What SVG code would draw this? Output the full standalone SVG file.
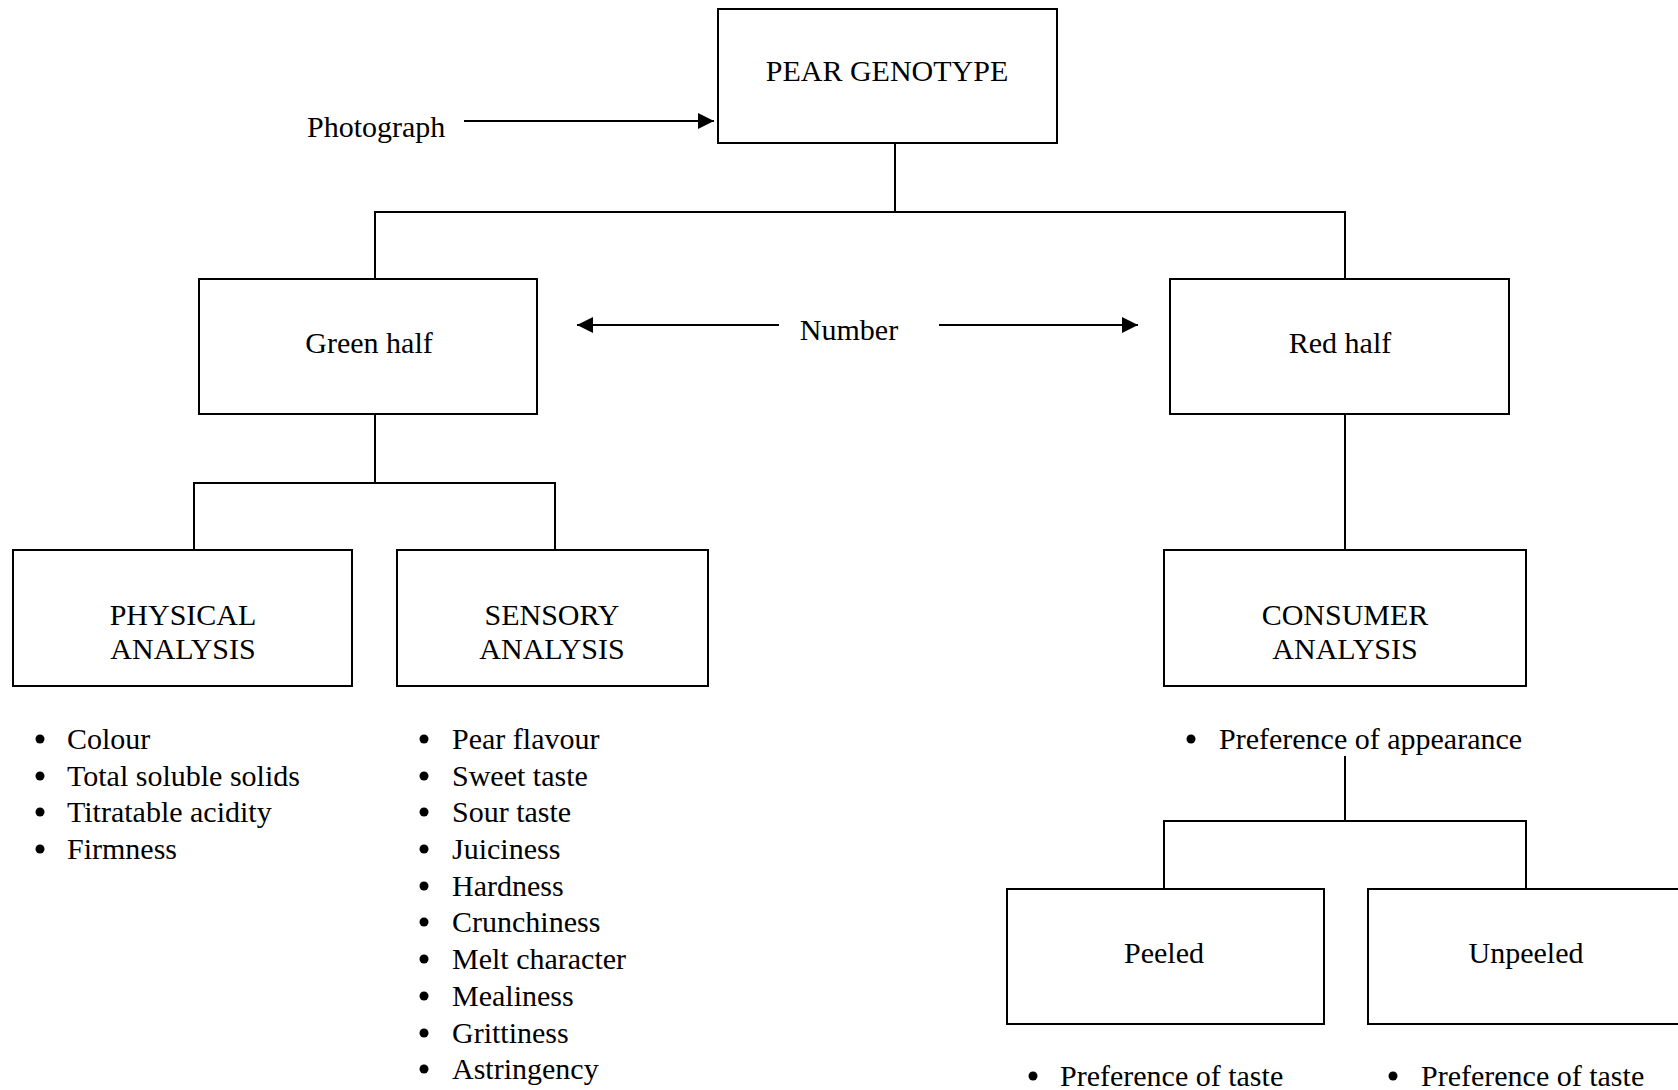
<svg xmlns="http://www.w3.org/2000/svg" width="1678" height="1090" viewBox="0 0 1678 1090">
<style>
text{font-family:"Liberation Serif","Times New Roman",serif;font-size:30px;fill:#000}
.c{text-anchor:middle}
.box{fill:#fff;stroke:#000;stroke-width:2}
.ln{fill:none;stroke:#000;stroke-width:2}
.b{fill:#000}
</style>
<defs>
<marker id="ah" viewBox="0 0 10 10" refX="10" refY="5" markerWidth="8" markerHeight="8" markerUnits="strokeWidth" orient="auto">
<path d="M0,0 L10,5 L0,10 z" fill="#000"/>
</marker>
</defs>
<rect width="1678" height="1090" fill="#fff"/>
<g id="connectors">
<line class="ln" x1="464" y1="121" x2="714" y2="121" marker-end="url(#ah)"/>
<polyline class="ln" points="895,143 895,212"/>
<polyline class="ln" points="375,279 375,212 1345,212 1345,279"/>
<line class="ln" x1="779" y1="325" x2="577" y2="325" marker-end="url(#ah)"/>
<line class="ln" x1="939" y1="325" x2="1138" y2="325" marker-end="url(#ah)"/>
<polyline class="ln" points="375,414 375,483"/>
<polyline class="ln" points="194,550 194,483 555,483 555,550"/>
<polyline class="ln" points="1345,414 1345,550"/>
<polyline class="ln" points="1345,756 1345,821"/>
<polyline class="ln" points="1164,889 1164,821 1526,821 1526,889"/>
</g>
<g id="photograph"><text x="307" y="137">Photograph</text></g>
<g id="number"><text class="c" x="849" y="340">Number</text></g>
<g id="pear-genotype"><rect class="box" x="718" y="9" width="339" height="134"/><text class="c" x="887" y="81">PEAR GENOTYPE</text></g>
<g id="green-half"><rect class="box" x="199" y="279" width="338" height="135"/><text class="c" x="369" y="353">Green half</text></g>
<g id="red-half"><rect class="box" x="1170" y="279" width="339" height="135"/><text class="c" x="1340" y="353">Red half</text></g>
<g id="physical-analysis"><rect class="box" x="13" y="550" width="339" height="136"/><text class="c" x="183" y="625">PHYSICAL</text><text class="c" x="183" y="659">ANALYSIS</text></g>
<g id="sensory-analysis"><rect class="box" x="397" y="550" width="311" height="136"/><text class="c" x="552" y="625">SENSORY</text><text class="c" x="552" y="659">ANALYSIS</text></g>
<g id="consumer-analysis"><rect class="box" x="1164" y="550" width="362" height="136"/><text class="c" x="1345" y="625">CONSUMER</text><text class="c" x="1345" y="659">ANALYSIS</text></g>
<g id="peeled"><rect class="box" x="1007" y="889" width="317" height="135"/><text class="c" x="1164" y="963">Peeled</text></g>
<g id="unpeeled"><rect class="box" x="1368" y="889" width="330" height="135"/><text class="c" x="1526" y="963">Unpeeled</text></g>
<g id="physical-list">
<circle class="b" cx="40" cy="739" r="4.5"/><text x="67" y="749">Colour</text>
<circle class="b" cx="40" cy="776" r="4.5"/><text x="67" y="786">Total soluble solids</text>
<circle class="b" cx="40" cy="812" r="4.5"/><text x="67" y="822">Titratable acidity</text>
<circle class="b" cx="40" cy="849" r="4.5"/><text x="67" y="859">Firmness</text>
</g>
<g id="sensory-list">
<circle class="b" cx="424" cy="739" r="4.5"/><text x="452" y="749">Pear flavour</text>
<circle class="b" cx="424" cy="776" r="4.5"/><text x="452" y="786">Sweet taste</text>
<circle class="b" cx="424" cy="812" r="4.5"/><text x="452" y="822">Sour taste</text>
<circle class="b" cx="424" cy="849" r="4.5"/><text x="452" y="859">Juiciness</text>
<circle class="b" cx="424" cy="886" r="4.5"/><text x="452" y="896">Hardness</text>
<circle class="b" cx="424" cy="922" r="4.5"/><text x="452" y="932">Crunchiness</text>
<circle class="b" cx="424" cy="959" r="4.5"/><text x="452" y="969">Melt character</text>
<circle class="b" cx="424" cy="996" r="4.5"/><text x="452" y="1006">Mealiness</text>
<circle class="b" cx="424" cy="1033" r="4.5"/><text x="452" y="1043">Grittiness</text>
<circle class="b" cx="424" cy="1069" r="4.5"/><text x="452" y="1079">Astringency</text>
</g>
<g id="consumer-list">
<circle class="b" cx="1191" cy="739" r="4.5"/><text x="1219" y="749">Preference of appearance</text>
</g>
<g id="peeled-list">
<circle class="b" cx="1033" cy="1076" r="4.5"/><text x="1060" y="1086">Preference of taste</text>
</g>
<g id="unpeeled-list">
<circle class="b" cx="1393" cy="1076" r="4.5"/><text x="1421" y="1086">Preference of taste</text>
</g>
</svg>
